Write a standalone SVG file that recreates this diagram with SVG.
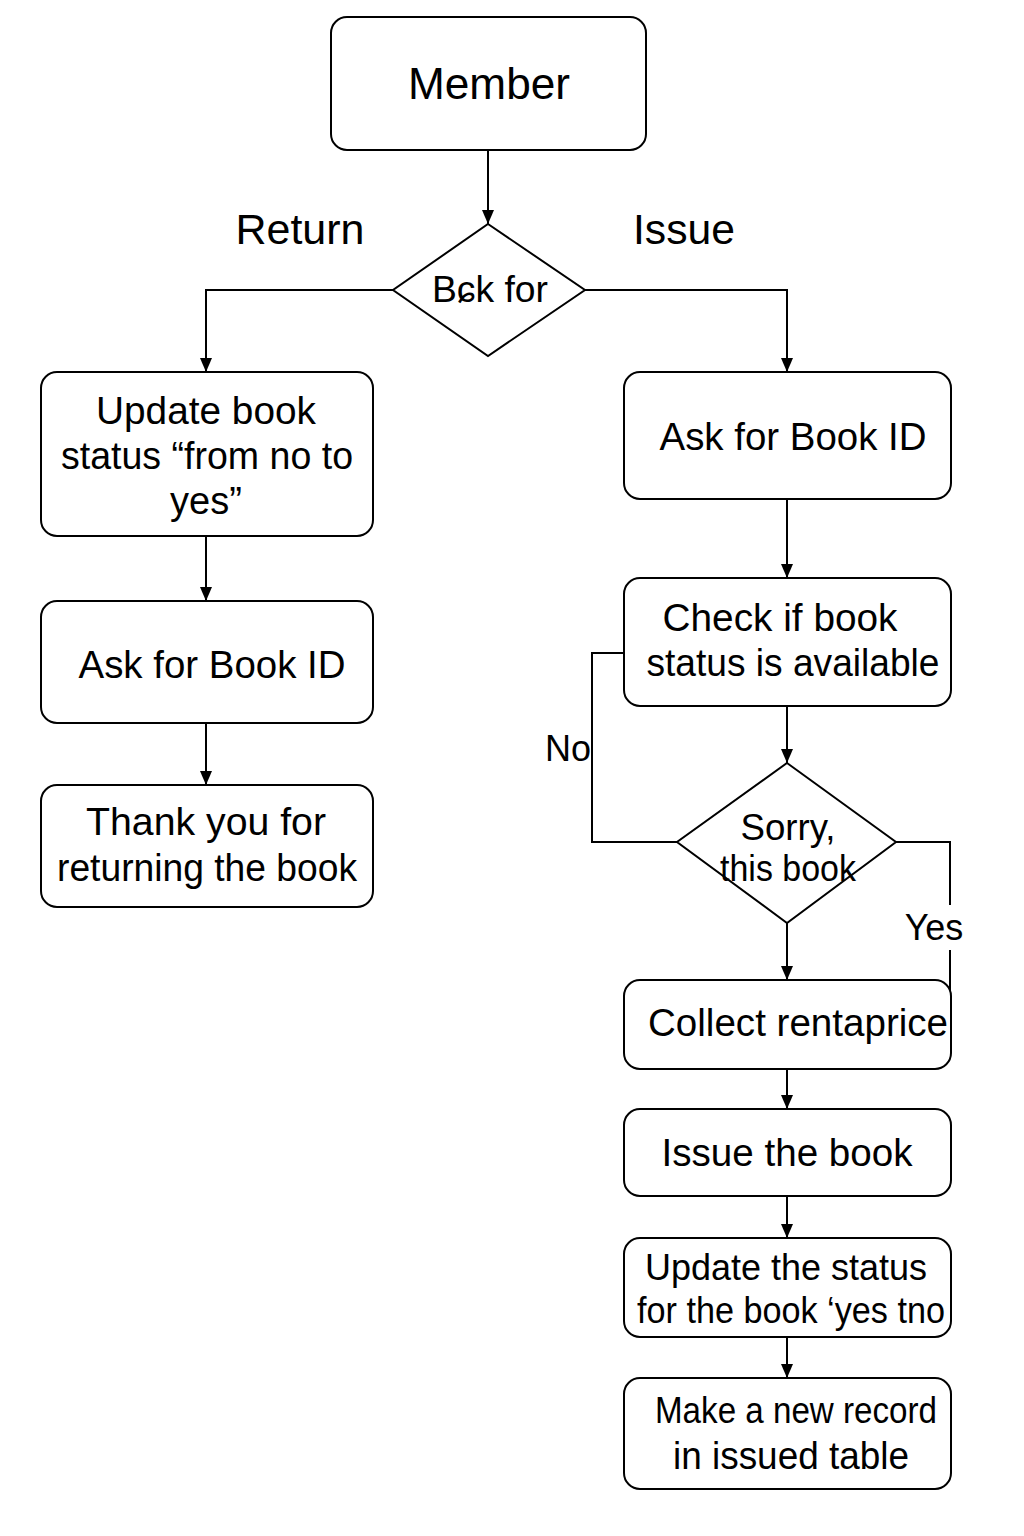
<svg xmlns="http://www.w3.org/2000/svg" width="1024" height="1536" viewBox="0 0 1024 1536">
<style>
.box{fill:#fff;stroke:#000;stroke-width:2}
.t{font-family:"Liberation Sans","DejaVu Sans",Arial,sans-serif;font-size:38px;fill:#000;text-anchor:middle}
.c{fill:none;stroke:#000;stroke-width:2}
</style>
<defs>
<marker id="ah" viewBox="0 0 14 12" refX="14" refY="6" markerWidth="14" markerHeight="12" markerUnits="userSpaceOnUse" orient="auto">
<path d="M0,0 L14,6 L0,12 z" fill="#000"/>
</marker>
</defs>
<rect width="1024" height="1536" fill="#fff"/>
<g id="connectors">
<path class="c" d="M488,150 V224" marker-end="url(#ah)"/>
<path class="c" d="M393,290 H206 V372" marker-end="url(#ah)"/>
<path class="c" d="M585,290 H787 V372" marker-end="url(#ah)"/>
<path class="c" d="M206,536 V601" marker-end="url(#ah)"/>
<path class="c" d="M206,723 V785" marker-end="url(#ah)"/>
<path class="c" d="M787,499 V578" marker-end="url(#ah)"/>
<path class="c" d="M624,653 H592 V842 H677"/>
<path class="c" d="M787,706 V763" marker-end="url(#ah)"/>
<path class="c" d="M896,842 H950 V905"/>
<path class="c" d="M950,950 V1030"/>
<path class="c" d="M787,923 V980" marker-end="url(#ah)"/>
<path class="c" d="M787,1069 V1109" marker-end="url(#ah)"/>
<path class="c" d="M787,1196 V1238" marker-end="url(#ah)"/>
<path class="c" d="M787,1337 V1378" marker-end="url(#ah)"/>
<text class="t" x="300" y="244" style="font-size:43px" textLength="129" lengthAdjust="spacingAndGlyphs">Return</text>
<text class="t" x="684" y="244" style="font-size:43px" textLength="102" lengthAdjust="spacingAndGlyphs">Issue</text>
<text class="t" x="568" y="761" style="font-size:36px">No</text>
<text class="t" x="934" y="940" style="font-size:36px">Yes</text>
</g>
<g id="member">
<rect class="box" x="331" y="17" width="315" height="133" rx="16"/>
<text class="t" x="489" y="99" style="font-size:44px" textLength="162" lengthAdjust="spacingAndGlyphs">Member</text>
</g>
<g id="ask-for">
<path class="box" d="M488,224 L585,290 L488,356 L393,290 Z"/>
<text class="t" x="490" y="302" style="font-size:37px" textLength="116" lengthAdjust="spacingAndGlyphs">Bɕk for</text>
</g>
<g id="update-book">
<rect class="box" x="41" y="372" width="332" height="164" rx="16"/>
<text class="t" x="206" y="424" textLength="220" lengthAdjust="spacingAndGlyphs">Update book</text>
<text class="t" x="207" y="469" textLength="292" lengthAdjust="spacingAndGlyphs">status “from no to</text>
<text class="t" x="206" y="514">yes”</text>
</g>
<g id="ask-id-left">
<rect class="box" x="41" y="601" width="332" height="122" rx="16"/>
<text class="t" x="212" y="678" textLength="267" lengthAdjust="spacingAndGlyphs">Ask for Book ID</text>
</g>
<g id="thank-you">
<rect class="box" x="41" y="785" width="332" height="122" rx="16"/>
<text class="t" x="206" y="835" textLength="240" lengthAdjust="spacingAndGlyphs">Thank you for</text>
<text class="t" x="207" y="881" textLength="300" lengthAdjust="spacingAndGlyphs">returning the book</text>
</g>
<g id="ask-id-right">
<rect class="box" x="624" y="372" width="327" height="127" rx="16"/>
<text class="t" x="793" y="450" textLength="267" lengthAdjust="spacingAndGlyphs">Ask for Book ID</text>
</g>
<g id="check">
<rect class="box" x="624" y="578" width="327" height="128" rx="16"/>
<text class="t" x="780" y="631" textLength="235" lengthAdjust="spacingAndGlyphs">Check if book</text>
<text class="t" x="793" y="676" textLength="293" lengthAdjust="spacingAndGlyphs">status is available</text>
</g>
<g id="sorry">
<path class="box" d="M787,763 L896,842 L787,923 L677,842 Z"/>
<text class="t" x="788" y="840" style="font-size:37px" textLength="95" lengthAdjust="spacingAndGlyphs">Sorry,</text>
<text class="t" x="788" y="881" style="font-size:36px" textLength="136" lengthAdjust="spacingAndGlyphs">this book</text>
</g>
<g id="collect">
<rect class="box" x="624" y="980" width="327" height="89" rx="16"/>
<text class="t" x="798" y="1036" textLength="300" lengthAdjust="spacingAndGlyphs">Collect rentaprice</text>
</g>
<g id="issue-book">
<rect class="box" x="624" y="1109" width="327" height="87" rx="16"/>
<text class="t" x="787" y="1166" textLength="251" lengthAdjust="spacingAndGlyphs">Issue the book</text>
</g>
<g id="update-status">
<rect class="box" x="624" y="1238" width="327" height="99" rx="16"/>
<text class="t" x="786" y="1280" style="font-size:37px" textLength="282" lengthAdjust="spacingAndGlyphs">Update the status</text>
<text class="t" x="791" y="1323" style="font-size:36px" textLength="308" lengthAdjust="spacingAndGlyphs">for the book ‘yes tno</text>
</g>
<g id="new-record">
<rect class="box" x="624" y="1378" width="327" height="111" rx="16"/>
<text class="t" x="796" y="1423" style="font-size:37px" textLength="282" lengthAdjust="spacingAndGlyphs">Make a new record</text>
<text class="t" x="791" y="1469" textLength="236" lengthAdjust="spacingAndGlyphs">in issued table</text>
</g>
</svg>
